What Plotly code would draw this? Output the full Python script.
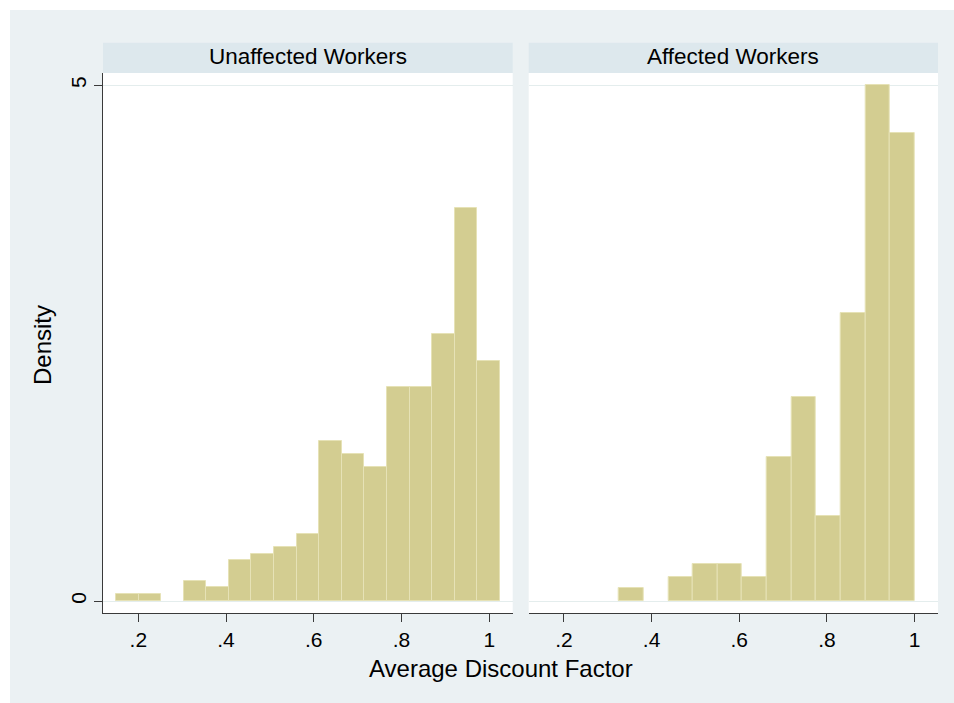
import numpy as np
import plotly.graph_objects as go

# Histogram bins (left edge of first bin, bin width) and bar densities
panel_titles = ["Unaffected Workers", "Affected Workers"]

unaffected_start = 0.149
unaffected_width = 0.0515
unaffected_density = [0.068, 0.068, 0.0, 0.197, 0.135, 0.395, 0.458, 0.522, 0.650,
                      1.556, 1.427, 1.297, 2.072, 2.072, 2.590, 3.815, 2.330]

affected_start = 0.3255
affected_width = 0.0562
affected_density = [0.122, 0.0, 0.236, 0.356, 0.356, 0.236, 1.400, 1.980, 0.820,
                    2.793, 5.0, 4.534]

x_ticks = [0.2, 0.4, 0.6, 0.8, 1.0]
x_ticktext = [".2", ".4", ".6", ".8", "1"]
y_ticks = [0, 5]
y_ticktext = ["0", "5"]

# Styling
W, H = 954, 703
ML, MR, MT, MB = 103, 16, 73, 90
BG = "#ebf1f3"
STRIP = "#dde8ed"
BAR_FILL = "#d3cd91"
BAR_LINE = "#e6e2b6"
GRID = "#e4eded"
AXIS = "#3a3a3a"
FONT = "Liberation Sans"

PW = W - ML - MR
PH = H - MT - MB


def px_x(p):
    return (p - ML) / PW


def px_y(p):
    return (H - MB - p) / PH


left_dom = [0.0, px_x(512.7)]
right_dom = [px_x(528.7), 1.0]
x_range = [0.1195, 1.0535]
y_range = [-0.116, 5.119]

fig = go.Figure()


def centers(start, width, n):
    return start + width * (np.arange(n) + 0.5)


def outline_widths(vals):
    # empty bins get no outline so nothing is drawn for them
    return [1 if v > 0 else 0 for v in vals]


fig.add_trace(go.Bar(
    x=centers(unaffected_start, unaffected_width, len(unaffected_density)),
    y=unaffected_density, width=unaffected_width,
    marker=dict(color=BAR_FILL,
                line=dict(color=BAR_LINE, width=outline_widths(unaffected_density))),
    xaxis="x", yaxis="y", showlegend=False, hoverinfo="x+y"))

fig.add_trace(go.Bar(
    x=centers(affected_start, affected_width, len(affected_density)),
    y=affected_density, width=affected_width,
    marker=dict(color=BAR_FILL,
                line=dict(color=BAR_LINE, width=outline_widths(affected_density))),
    xaxis="x2", yaxis="y2", showlegend=False, hoverinfo="x+y"))

xaxis_common = dict(
    range=x_range, tickvals=x_ticks, ticktext=x_ticktext,
    ticks="outside", ticklen=8, tickwidth=1, tickcolor=AXIS,
    showline=True, linecolor=AXIS, linewidth=1, showgrid=False, zeroline=False,
    tickfont=dict(family=FONT, size=21, color="black"), fixedrange=True)

fig.update_layout(
    width=W, height=H,
    margin=dict(l=ML, r=MR, t=MT, b=MB, pad=0),
    paper_bgcolor=BG, plot_bgcolor="white",
    bargap=0, barmode="overlay",
    font=dict(family=FONT, color="black"),
    xaxis=dict(domain=left_dom, anchor="y", **xaxis_common),
    xaxis2=dict(domain=right_dom, anchor="y2", **xaxis_common),
    yaxis=dict(domain=[0, 1], anchor="x", range=y_range,
               tickvals=y_ticks, ticktext=y_ticktext, tickangle=-90,
               ticks="outside", ticklen=8, tickwidth=1, tickcolor=AXIS,
               showline=True, linecolor=AXIS, linewidth=1,
               showgrid=True, gridcolor=GRID, gridwidth=1, zeroline=False,
               tickfont=dict(family=FONT, size=21, color="black"), fixedrange=True),
    yaxis2=dict(domain=[0, 1], anchor="x2", range=y_range,
                tickvals=y_ticks, showticklabels=False, ticks="",
                showline=False, showgrid=True, gridcolor=GRID, gridwidth=1,
                zeroline=False, fixedrange=True),
)

shapes = []
# white border along the top and left edges of the page
shapes.append(dict(type="rect", xref="paper", yref="paper",
                   x0=px_x(0), x1=px_x(W), y0=px_y(10), y1=px_y(0),
                   fillcolor="white", line=dict(width=0), layer="above"))
shapes.append(dict(type="rect", xref="paper", yref="paper",
                   x0=px_x(0), x1=px_x(10), y0=px_y(H), y1=px_y(0),
                   fillcolor="white", line=dict(width=0), layer="above"))
# panel header strips
for dom in (left_dom, right_dom):
    shapes.append(dict(type="rect", xref="paper", yref="paper",
                       x0=dom[0], x1=dom[1], y0=1.0, y1=px_y(42.7),
                       fillcolor=STRIP, line=dict(width=0), layer="above"))
fig.update_layout(shapes=shapes)

annotations = []
for dom, title in zip((left_dom, right_dom), panel_titles):
    annotations.append(dict(text=title, xref="paper", yref="paper",
                            x=(dom[0] + dom[1]) / 2, y=px_y(56),
                            xanchor="center", yanchor="middle", showarrow=False,
                            font=dict(family=FONT, size=22.5, color="black")))
annotations.append(dict(text="Average Discount Factor", xref="paper", yref="paper",
                        x=px_x(501), y=px_y(668), xanchor="center", yanchor="middle",
                        showarrow=False, font=dict(family=FONT, size=24, color="black")))
annotations.append(dict(text="Density", xref="paper", yref="paper",
                        x=px_x(42), y=px_y(345), xanchor="center", yanchor="middle",
                        textangle=-90, showarrow=False,
                        font=dict(family=FONT, size=24, color="black")))
fig.update_layout(annotations=annotations)

fig.write_html("out.html")
